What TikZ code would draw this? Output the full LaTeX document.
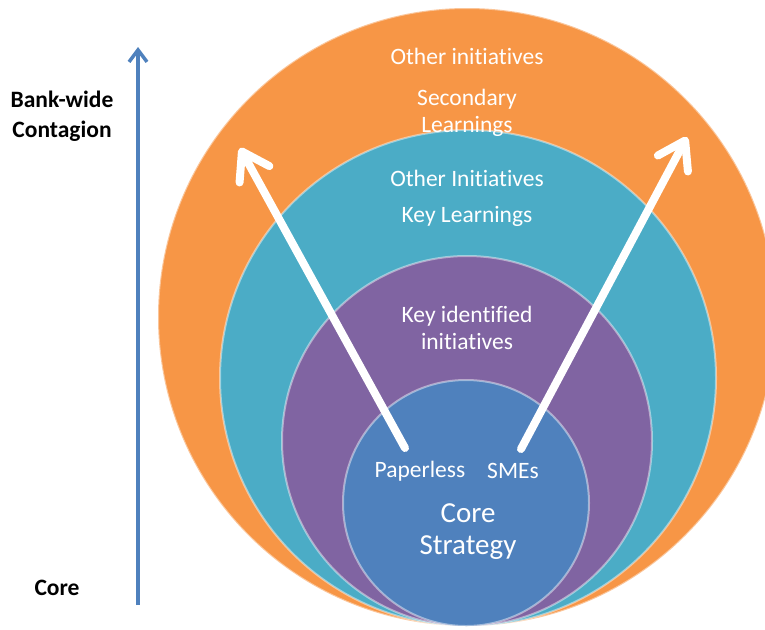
\documentclass[tikz,border=0pt]{standalone}
\usepackage{fontspec}
\setmainfont{Carlito}[Ligatures=NoCommon]
\usetikzlibrary{arrows.meta, positioning}
\definecolor{ringorange}{RGB}{247,150,70}
\definecolor{ringteal}{RGB}{75,172,198}
\definecolor{ringpurple}{RGB}{128,100,162}
\definecolor{ringblue}{RGB}{79,129,189}
\tikzstyle{ring} = [circle, inner sep=0pt, draw=white, draw opacity=0.45, line width=2pt]
\tikzstyle{ringtext} = [text=white, font=\fontsize{23.5}{27}\selectfont, align=center]
\tikzstyle{coretext} = [text=white, font=\fontsize{29}{32}\selectfont, align=center]
\tikzstyle{sidetext} = [text=black, font=\bfseries\fontsize{23.5}{30}\selectfont, align=center]
\tikzstyle{bigarrow} = [white, line width=8pt, line cap=round, -{Straight Barb[length=26pt,width=34pt,round]}]
\tikzstyle{axisarrow} = [ringblue, line width=3.5pt, -{Straight Barb[length=12pt,width=18pt]}]

\begin{document}
\begin{tikzpicture}[x=1pt, y=-1pt]
\useasboundingbox (0,0) rectangle (765,629);
\clip (0,0) rectangle (765,629);
% rings, outside in
\node (outer) [ring, fill=ringorange, minimum size=618pt] at (467,317) {};
\node (middle) [ring, fill=ringteal, minimum size=496pt] at (468,378) {};
\node (inner) [ring, fill=ringpurple, minimum size=370pt] at (467,441) {};
\node (core) [ring, fill=ringblue, minimum size=246pt] at (466,503) {};
% ring labels
\node (otherinit) [ringtext] at (467,56) {Other initiatives};
\node (secondary) [ringtext] at (467,113) {Secondary\\Learnings};
\node (otherInit) [ringtext] at (467,178) {Other Initiatives};
\node (keylearn) [ringtext] at (467,216) {Key Learnings};
\node (keyident) [ringtext] at (467,328) {Key identified\\initiatives};
\node (paperless) [ringtext] at (420,471) {Paperless};
\node (smes) [ringtext] at (513,471) {SMEs};
\node (corestrat) [coretext] at (468,532) {Core\\Strategy};
% side axis
\node (bankwide) [sidetext] at (62,116) {Bank-wide\\Contagion};
\node (corelabel) [sidetext] at (57,588) {Core};
\coordinate (axisbottom) at (138,605);
\coordinate (axistop) at (138,47);
\draw [axisarrow] (axisbottom) -- (axistop);
% spreading arrows
\coordinate (paperstart) at (405,448);
\coordinate (papertip) at (240,148);
\coordinate (smestart) at (521,449);
\coordinate (smetip) at (687,137);
\draw [bigarrow] (paperstart) -- (papertip);
\draw [bigarrow] (smestart) -- (smetip);
\end{tikzpicture}
\end{document}
